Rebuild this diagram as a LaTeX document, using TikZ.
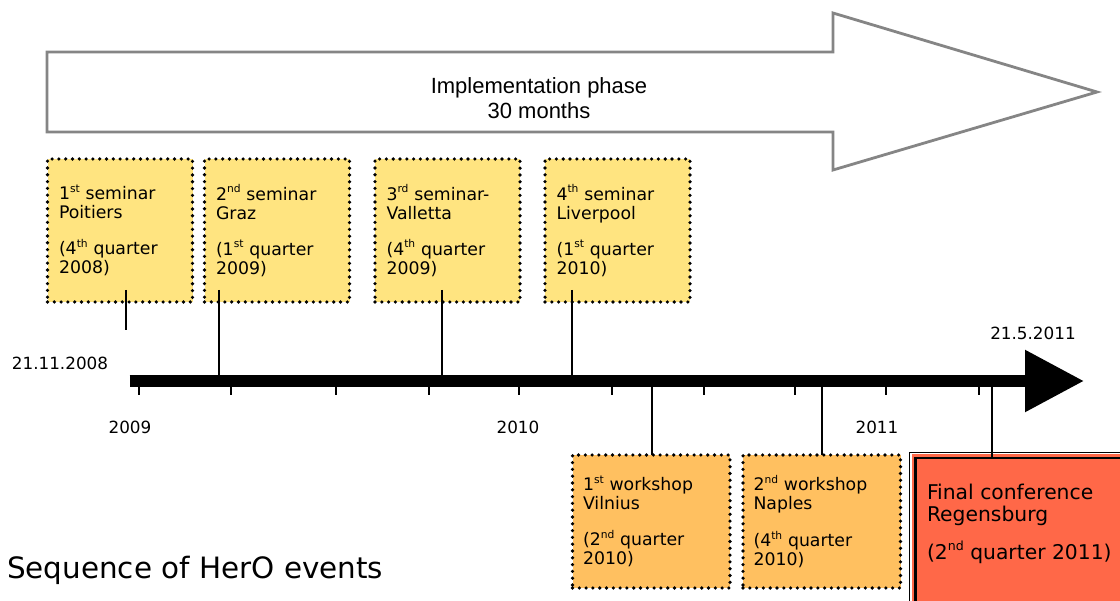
\documentclass[tikz,border=0pt]{standalone}
\usepackage{fontspec}
\setmainfont{DejaVu Sans}
\newfontfamily\phasefont{Liberation Sans}
\usetikzlibrary{arrows.meta}
\definecolor{ink}{HTML}{000000}
\definecolor{frame}{HTML}{858585}
\definecolor{seminar}{HTML}{FFE480}
\definecolor{workshop}{HTML}{FFC060}
\definecolor{finale}{HTML}{FF6848}
\newcommand{\fsz}[2]{\fontsize{#1}{#2}\selectfont}
\newcommand{\nth}[1]{\raisebox{.42em}{\scalebox{.62}{#1}}}

\begin{document}
\begin{tikzpicture}[x=1pt,y=-1pt,text=ink,
  eventbox/.style={draw=ink,line width=3.6pt,line cap=round,
    dash pattern=on 0pt off 6.8pt,anchor=north west,align=left,
    outer sep=0pt,inner ysep=0pt,font=\fsz{17.3}{19}},
  seminarbox/.style={eventbox,fill=seminar,inner xsep=11.5pt,
    text width=122pt,minimum height=143pt},
  workshopbox/.style={eventbox,fill=workshop,inner xsep=10.5pt,
    text width=136.5pt,minimum height=133pt},
  finalbox/.style={draw=ink,line width=2.5pt,fill=finale,
    preaction={draw=finale,line width=7pt},anchor=north west,
    outer sep=0pt,inner xsep=11.5pt,inner ysep=26pt,font=\fsz{20.3}{22.4}},
  stem/.style={ink,line width=1.9pt},
  datelabel/.style={font=\fsz{16.8}{19}}]

  \useasboundingbox (0,0) rectangle (1120,601);
  \clip (0,0) rectangle (1120,601);

  \draw[frame,line width=2.8pt,fill=white,line join=miter]
    (47,52)--(833,52)--(833,13)--(1097,92)--(833,170)--(833,132)--(47,132)--cycle;
  \node[font=\phasefont\fsz{22}{25},align=center] (phase) at (539,98)
    {Implementation phase\\30 months};

  \node[seminarbox] (sem1) at (47.5,159)
    {1\nth{st} seminar\\Poitiers\\[17pt](4\nth{th} quarter\\2008)};
  \node[seminarbox] (sem2) at (204.5,159)
    {2\nth{nd} seminar\\Graz\\[17pt](1\nth{st} quarter\\2009)};
  \node[seminarbox] (sem3) at (375,159)
    {3\nth{rd} seminar-\\Valletta\\[17pt](4\nth{th} quarter\\2009)};
  \node[seminarbox] (sem4) at (545,159)
    {4\nth{th} seminar\\Liverpool\\[17pt](1\nth{st} quarter\\2010)};

  \coordinate (tlstart) at (129.6,381);
  \coordinate (tlend) at (1084,381);
  \draw[ink,line width=12pt,-{Triangle[length=59pt,width=59pt]}]
    (tlstart) -- (tlend);
  \foreach \x in {139,231,336,429,519,612,704,795,886,979}
    \draw[ink,line width=1.6pt] (\x,387) -- (\x,395);

  \coordinate (d1) at (126,330);
  \coordinate (d2) at (218.6,375);
  \coordinate (d3) at (442,375);
  \coordinate (d4) at (572,375);
  \foreach \i in {1,...,4}
    \draw[stem] ([yshift=12pt]d\i |- sem\i.south) -- (d\i);

  \node[workshopbox] (ws1) at (572.5,455)
    {1\nth{st} workshop\\Vilnius\\[17pt](2\nth{nd} quarter\\2010)};
  \node[workshopbox] (ws2) at (743,455)
    {2\nth{nd} workshop\\Naples\\[17pt](4\nth{th} quarter\\2010)};
  \node[finalbox] (final) at (915.5,458)
    {\begin{minipage}[t][160pt][t]{190pt}Final conference\\Regensburg\\[15pt](2\nth{nd} quarter 2011)\end{minipage}};
  \draw[ink,line width=0.9pt] ([shift={(-6,-5.5)}]final.north west)
    rectangle ([shift={(6,5.5)}]final.south east);

  \coordinate (d5) at (652,387);
  \coordinate (d6) at (822,387);
  \coordinate (d7) at (992,387);
  \draw[stem] (d5) -- (d5 |- ws1.north);
  \draw[stem] (d6) -- (d6 |- ws2.north);
  \draw[stem] (d7) -- (d7 |- final.north);

  \node[datelabel] (start) at (60,363.5) {21.11.2008};
  \node[datelabel] (end) at (1033,333) {21.5.2011};
  \foreach \x/\yr in {130/2009,518/2010,877/2011}
    \node[datelabel] (y\yr) at (\x,427) {\yr};

  \node[anchor=base west,inner sep=0pt,font=\fsz{29.4}{32}] (title) at (7,579)
    {Sequence of HerO events};
\end{tikzpicture}
\end{document}
